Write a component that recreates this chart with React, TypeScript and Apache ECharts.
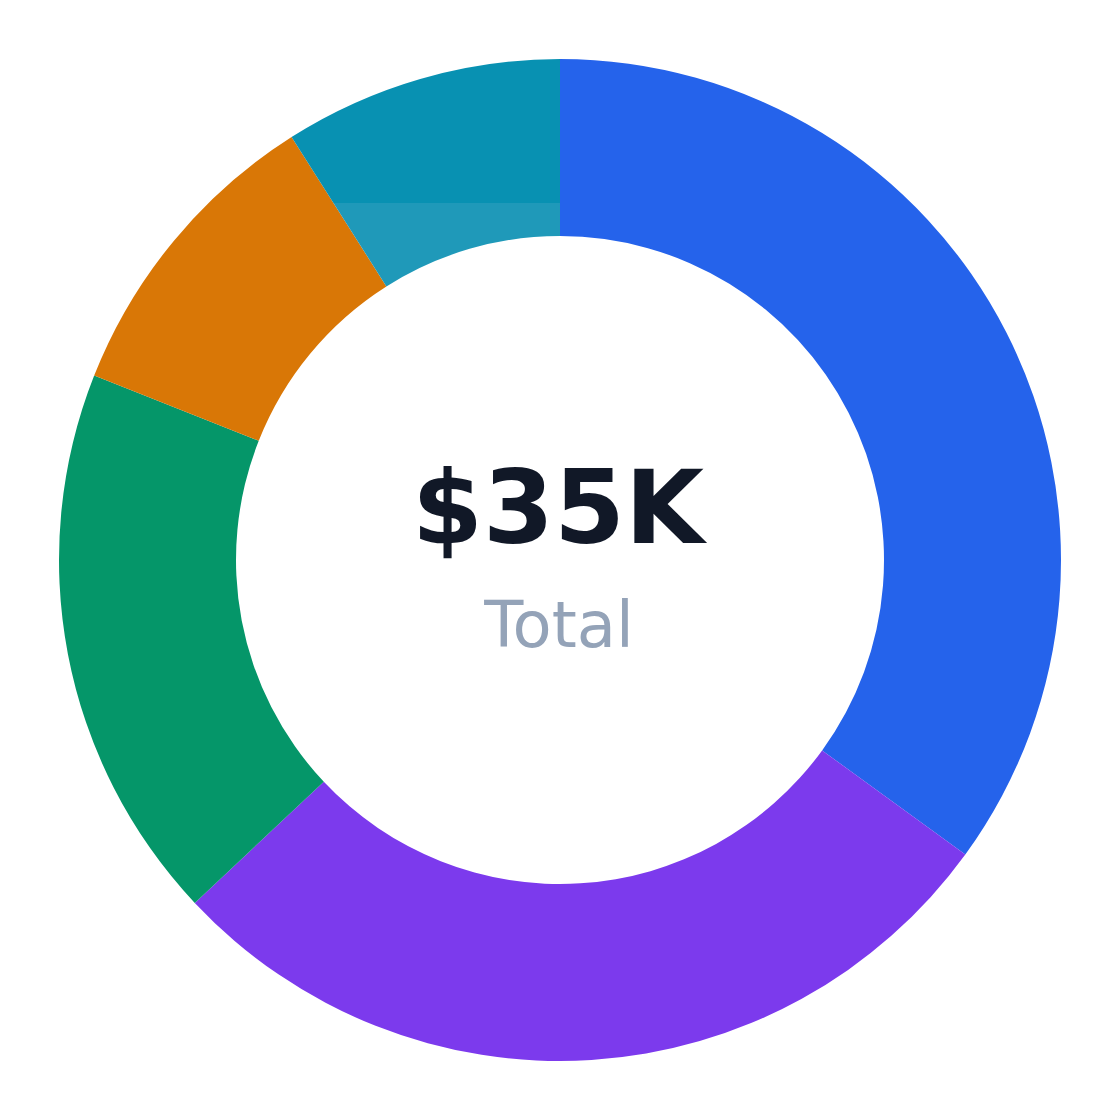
import React, { useEffect, useRef } from "react";
import * as echarts from "echarts";

const categories = ["Segment A", "Segment B", "Segment C", "Segment D", "Segment E"];
const values = [12250, 9800, 6300, 3500, 3150];
const colors = ["#2563eb", "#7c3aed", "#059669", "#d97706", "#0891b2"];
const totalLabel = "$35K";
const subLabel = "Total";

export default function App() {
  const ref = useRef<HTMLDivElement>(null);
  useEffect(() => {
    if (!ref.current) return;
    const chart = echarts.init(ref.current, null, { renderer: "svg" });
    const data = categories.map((name, i) => {
      const item: any = { name, value: values[i], itemStyle: { color: colors[i] } };
      if (i === 4) {
        item.itemStyle.color = new echarts.graphic.LinearGradient(0, 0, 0, 1, [
          { offset: 0, color: "#0891b2" },
          { offset: 0.633, color: "#0891b2" },
          { offset: 0.633, color: "#1f99b9" },
          { offset: 1, color: "#1f99b9" },
        ]);
      }
      return item;
    });
    chart.setOption({
      animation: false,
      series: [
        {
          type: "pie",
          center: ["50%", "50%"],
          radius: [324, 501],
          startAngle: 90,
          clockwise: true,
          label: { show: false },
          labelLine: { show: false },
          itemStyle: { borderWidth: 0 },
          emphasis: { disabled: true },
          data,
        },
      ],
      graphic: [
        {
          type: "text",
          x: 550,
          y: 499,
          style: {
            text: totalLabel,
            fill: "#111827",
            font: "bold 102px 'DejaVu Sans'",
            align: "center",
            verticalAlign: "middle",
          },
        },
        {
          type: "text",
          x: 551,
          y: 617,
          style: {
            text: subLabel,
            fill: "#94a3b8",
            font: "64px 'DejaVu Sans'",
            align: "center",
            verticalAlign: "middle",
          },
        },
      ],
    });
    return () => chart.dispose();
  }, []);
  return <div ref={ref} style={{ width: 1104, height: 1104 }} />;
}
